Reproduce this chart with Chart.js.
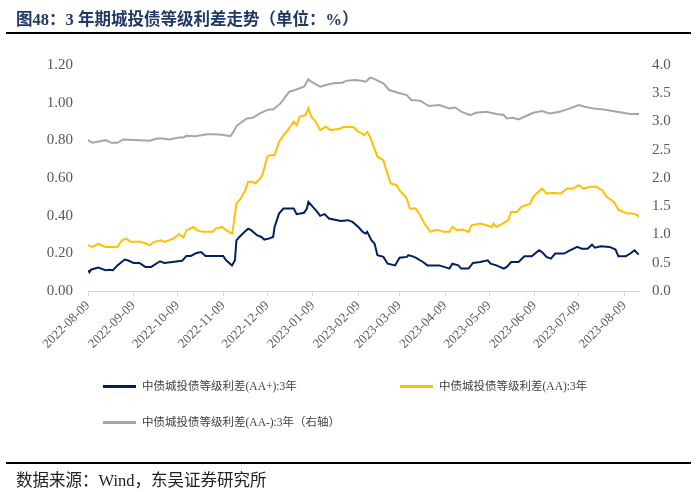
<!DOCTYPE html>
<html>
<head>
<meta charset="utf-8">
<script src="https://cdn.jsdelivr.net/npm/chart.js@4/dist/chart.umd.min.js"></script>
<style>
  html, body { margin: 0; padding: 0; background: #fff; }
  #wrap { position: relative; width: 697px; height: 492px; overflow: hidden; background: #fff; }
  #c { position: absolute; left: 0; top: 0; }
  .title { position: absolute; left: 16px; top: 6px; line-height: 22px; font: bold 16.5px "Liberation Serif", "Noto Sans CJK SC", serif; color: #203864; white-space: nowrap; }
  .rule1 { position: absolute; left: 6px; width: 685px; top: 32px; height: 2px; background: #000; }
  .rule2 { position: absolute; left: 6px; width: 685px; top: 462px; height: 1.5px; background: #000; }
  .source { position: absolute; left: 16px; top: 467px; line-height: 22px; font: 16.5px "Liberation Serif", "Noto Sans CJK SC", serif; color: #222; white-space: nowrap; }
  .leg { position: absolute; font: 11.5px "Liberation Serif", "Noto Sans CJK SC", serif; color: #404040; white-space: nowrap; line-height: 16px; }
  .leg i { position: absolute; top: 7px; width: 33px; height: 3px; }
  .leg span { position: absolute; left: 39px; top: 0; }
</style>
</head>
<body>
<div id="wrap">
  <canvas id="c" width="697" height="492"></canvas>
  <div class="title">图48：3 年期城投债等级利差走势（单位：%）</div>
  <div class="rule1"></div>
  <div class="leg" style="left:103px; top:378px;"><i style="background:#002060"></i><span>中债城投债等级利差(AA+):3年</span></div>
  <div class="leg" style="left:400px; top:378px;"><i style="background:#FFC000"></i><span>中债城投债等级利差(AA):3年</span></div>
  <div class="leg" style="left:103px; top:414px;"><i style="background:#A6A6A6"></i><span>中债城投债等级利差(AA-):3年（右轴）</span></div>
  <div class="rule2"></div>
  <div class="source">数据来源：Wind，东吴证券研究所</div>
</div>
<script>
// x = calendar days since 2022-08-09
const tickDays = [0, 31, 61, 92, 122, 153, 184, 212, 243, 273, 304, 334, 365];
const tickLabels = ["2022-08-09","2022-09-09","2022-10-09","2022-11-09","2022-12-09","2023-01-09","2023-02-09","2023-03-09","2023-04-09","2023-05-09","2023-06-09","2023-07-09","2023-08-09"];

const seriesNames = ["中债城投债等级利差(AA+):3年", "中债城投债等级利差(AA):3年", "中债城投债等级利差(AA-):3年（右轴）"];

const aaPlusDays = [0,1,2,7,9,12,15,17,20,25,27,31,35,39,43,49,52,64,67,70,74,77,80,92,94,98,100,101,103,107,109,111,115,118,120,123,126,127,130,133,140,142,147,149,150,153,156,158,161,164,172,177,180,184,187,189,190,193,195,197,201,204,209,212,217,218,221,223,228,231,239,244,246,248,252,254,259,262,267,272,274,278,283,285,288,293,297,302,307,309,312,315,318,324,328,333,336,340,343,345,349,355,359,361,366,369,372,374,375];
const aaPlusValues = [0.11,0.10,0.113,0.124,0.119,0.110,0.113,0.110,0.136,0.167,0.163,0.149,0.149,0.128,0.128,0.158,0.149,0.160,0.186,0.186,0.202,0.207,0.186,0.186,0.163,0.136,0.163,0.269,0.287,0.317,0.331,0.323,0.296,0.287,0.273,0.278,0.287,0.340,0.411,0.438,0.438,0.408,0.415,0.438,0.473,0.447,0.420,0.399,0.408,0.385,0.372,0.376,0.367,0.340,0.314,0.305,0.314,0.269,0.252,0.190,0.181,0.145,0.136,0.177,0.181,0.190,0.184,0.177,0.154,0.136,0.136,0.124,0.119,0.145,0.136,0.119,0.119,0.149,0.154,0.163,0.145,0.136,0.119,0.128,0.154,0.154,0.184,0.184,0.216,0.207,0.181,0.172,0.199,0.199,0.216,0.234,0.225,0.225,0.246,0.230,0.238,0.234,0.220,0.184,0.184,0.199,0.216,0.199,0.195];

const aaDays = [0,3,7,9,12,20,23,26,29,36,39,42,45,50,52,58,62,65,67,72,74,78,85,87,91,94,98,99,101,104,107,109,112,114,118,119,122,124,127,130,133,136,140,142,144,148,150,152,155,158,160,162,165,172,174,181,184,186,188,190,192,194,197,201,203,206,210,212,217,219,223,226,229,233,236,239,242,246,248,251,255,259,261,267,271,275,276,278,283,286,288,292,295,301,303,309,312,317,322,326,330,334,337,342,346,350,353,358,361,367,371,374,375];
const aaValues = [0.243,0.234,0.252,0.243,0.234,0.234,0.269,0.278,0.261,0.261,0.252,0.243,0.261,0.269,0.261,0.278,0.301,0.284,0.323,0.340,0.323,0.314,0.314,0.331,0.340,0.323,0.305,0.349,0.464,0.491,0.535,0.580,0.580,0.571,0.606,0.624,0.713,0.721,0.721,0.792,0.828,0.854,0.899,0.881,0.925,0.934,0.970,0.925,0.899,0.854,0.863,0.872,0.854,0.863,0.872,0.869,0.845,0.840,0.828,0.845,0.819,0.775,0.713,0.695,0.642,0.571,0.562,0.535,0.491,0.438,0.438,0.402,0.358,0.314,0.323,0.323,0.314,0.314,0.340,0.323,0.326,0.314,0.349,0.358,0.349,0.340,0.358,0.340,0.362,0.376,0.420,0.420,0.447,0.464,0.500,0.544,0.518,0.521,0.518,0.544,0.544,0.562,0.544,0.553,0.553,0.535,0.500,0.473,0.432,0.411,0.411,0.402,0.393];

const aaMinusDays = [0,3,12,16,20,24,35,42,47,51,55,62,65,67,73,81,85,91,97,99,101,104,108,112,117,123,126,131,137,141,147,150,152,158,162,167,173,176,182,186,189,192,194,201,205,211,217,220,226,232,239,246,250,254,260,264,271,278,283,285,289,293,297,303,309,314,321,328,334,338,344,351,360,369,375];
const aaMinusValues = [2.670,2.623,2.670,2.623,2.623,2.682,2.670,2.659,2.700,2.700,2.682,2.718,2.718,2.747,2.741,2.776,2.776,2.764,2.741,2.818,2.919,2.978,3.054,3.066,3.143,3.214,3.214,3.320,3.527,3.557,3.616,3.746,3.704,3.616,3.645,3.675,3.686,3.722,3.734,3.722,3.704,3.775,3.763,3.675,3.557,3.509,3.468,3.379,3.368,3.273,3.291,3.232,3.249,3.173,3.114,3.155,3.173,3.131,3.114,3.054,3.066,3.037,3.084,3.155,3.184,3.143,3.173,3.232,3.291,3.261,3.232,3.214,3.173,3.131,3.131];

const leftTicks = { min: 0, max: 1.2, step: 0.2 };
const rightTicks = { min: 0, max: 4.0, step: 0.5 };

function pts(days, vals) { return days.map((d, i) => ({ x: d, y: vals[i] })); }

const tickFont = { family: "'Liberation Serif', 'Times New Roman', serif", size: 15 };
const tickColor = '#595959';

new Chart(document.getElementById('c'), {
  type: 'line',
  data: {
    datasets: [
      { label: seriesNames[0], data: pts(aaPlusDays, aaPlusValues), borderColor: '#002060', borderWidth: 2, pointRadius: 0, yAxisID: 'yL', tension: 0 },
      { label: seriesNames[1], data: pts(aaDays, aaValues), borderColor: '#FFC000', borderWidth: 2, pointRadius: 0, yAxisID: 'yL', tension: 0 },
      { label: seriesNames[2], data: pts(aaMinusDays, aaMinusValues), borderColor: '#A6A6A6', borderWidth: 2, pointRadius: 0, yAxisID: 'yR', tension: 0 }
    ]
  },
  options: {
    responsive: false,
    animation: false,
    layout: { padding: { top: 65, bottom: 0, left: 0, right: 0 } },
    plugins: { legend: { display: false }, tooltip: { enabled: false } },
    scales: {
      x: {
        type: 'linear',
        min: 0,
        max: 375,
        afterBuildTicks: (s) => { s.ticks = tickDays.map(v => ({ value: v })); },
        afterFit: (s) => { s.height = 201; },
        border: { display: true, color: '#d9d9d9', width: 1 },
        grid: { drawOnChartArea: false, drawTicks: true, tickLength: 5, color: '#d9d9d9' },
        ticks: {
          autoSkip: false, maxRotation: 45, minRotation: 45, padding: 2,
          font: { family: "'Liberation Serif', 'Times New Roman', serif", size: 13 },
          color: tickColor,
          callback: (v) => { const i = tickDays.indexOf(v); return i >= 0 ? tickLabels[i] : ''; }
        }
      },
      yL: {
        position: 'left',
        min: leftTicks.min, max: leftTicks.max,
        afterFit: (s) => { s.width = 88; },
        border: { display: false },
        grid: { display: false, drawTicks: false },
        ticks: { stepSize: leftTicks.step, padding: 15, font: tickFont, color: tickColor, callback: (v) => Number(v).toFixed(2) }
      },
      yR: {
        position: 'right',
        min: rightTicks.min, max: rightTicks.max,
        afterFit: (s) => { s.width = 58; },
        border: { display: false },
        grid: { display: false, drawTicks: false },
        ticks: { stepSize: rightTicks.step, padding: 13, font: tickFont, color: tickColor, callback: (v) => Number(v).toFixed(1) }
      }
    }
  }
});
</script>
</body>
</html>
